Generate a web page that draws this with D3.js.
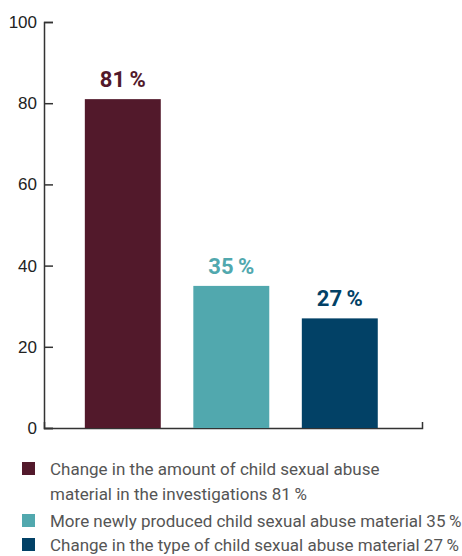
<!DOCTYPE html>
<html>
<head>
<meta charset="utf-8">
<script src="https://cdn.jsdelivr.net/npm/d3@7"></script>
<style>
  body { margin: 0; background: #fff; }
  svg { display: block; font-family: Roboto, "Noto Sans", sans-serif; }
</style>
</head>
<body>
<svg id="chart" width="462" height="556"></svg>
<script>
// data
var categories = ["amount", "newly", "type"];
var values = [81, 35, 27];
var barColors = ["#52192b", "#51a8ae", "#024166"];
var legendLines = [
  ["Change in the amount of child sexual abuse", "material in the investigations 81\u2009%"],
  ["More newly produced child sexual abuse material 35\u2009%"],
  ["Change in the type of child sexual abuse material 27\u2009%"]
];
var yTicks = [0, 20, 40, 60, 80, 100];

var svg = d3.select("#chart");

var x = d3.scaleBand()
    .domain(categories)
    .range([44, 422])
    .paddingInner(0.3)
    .paddingOuter(0.392)
    .align(0.48);

var y = d3.scaleLinear()
    .domain([0, 100])
    .range([428, 22]);

//y axis, ticks point inward
var yAxis = svg.append("g")
    .attr("transform", "translate(44,0)")
    .call(d3.axisLeft(y)
      .tickValues(yTicks)
      .tickSizeInner(-9)
      .tickSizeOuter(-9)
      .tickPadding(7));

yAxis.selectAll("text")
    .style("font-size", "17px")
    .attr("fill", "#222");

//x axis is just a line with a small tick at the right end
var xAxis = svg.append("g")
    .attr("transform", "translate(0,428)")
    .call(d3.axisBottom(x).tickValues([]).tickSizeOuter(-6));

svg.selectAll(".domain, .tick line")
    .attr("stroke", "#333")
    .attr("stroke-width", 1.5);

//bars
svg.append("g").selectAll("rect")
    .data(values)
    .enter().append("rect")
    .attr("x", function(d, i) { return x(categories[i]); })
    .attr("y", function(d) { return y(d); })
    .attr("width", x.bandwidth())
    .attr("height", function(d) { return y(0) - y(d); })
    .attr("fill", function(d, i) { return barColors[i]; });

//value labels
svg.append("g").selectAll("text")
    .data(values)
    .enter().append("text")
    .attr("x", function(d, i) { return x(categories[i]) + x.bandwidth() / 2; })
    .attr("y", function(d) { return y(d) - 12; })
    .attr("text-anchor", "middle")
    .style("font-size", "22px")
    .style("font-weight", "700")
    .attr("fill", function(d, i) { return barColors[i]; })
    .text(function(d) { return d + "\u2009%"; });

//legend, baseline of first line of each item
var legendBase = [475, 527, 551];
var legend = svg.append("g").selectAll("g")
    .data(legendLines)
    .enter().append("g");

legend.append("rect")
    .attr("x", 22)
    .attr("y", function(d, i) { return legendBase[i] - 13; })
    .attr("width", 13)
    .attr("height", 13)
    .attr("fill", function(d, i) { return barColors[i]; });

legend.append("text")
    .attr("x", 50)
    .attr("y", function(d, i) { return legendBase[i]; })
    .style("font-size", "17px")
    .attr("fill", "#555")
    .selectAll("tspan")
    .data(function(d) { return d; })
    .enter().append("tspan")
    .attr("x", 50)
    .attr("dy", function(d, j) { return j ? 25 : 0; })
    .text(function(d) { return d; });
</script>
</body>
</html>
